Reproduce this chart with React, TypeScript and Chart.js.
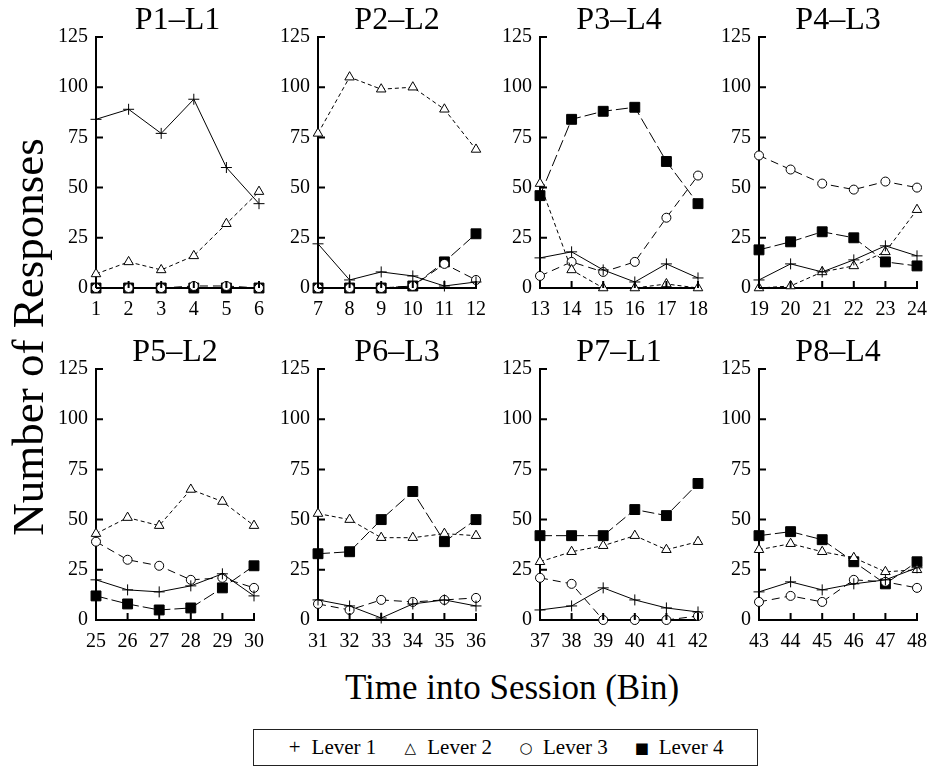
import React, { useEffect, useRef } from 'react';
import { Chart, registerables } from 'chart.js';

Chart.register(...registerables);

// ---------------- data ----------------
const binLabels = [
  '1', '2', '3', '4', '5', '6', '7', '8', '9', '10', '11', '12',
  '13', '14', '15', '16', '17', '18', '19', '20', '21', '22', '23', '24',
  '25', '26', '27', '28', '29', '30', '31', '32', '33', '34', '35', '36',
  '37', '38', '39', '40', '41', '42', '43', '44', '45', '46', '47', '48',
];

const panelTitles = ['P1–L1', 'P2–L2', 'P3–L4', 'P4–L3', 'P5–L2', 'P6–L3', 'P7–L1', 'P8–L4'];

const yTicks = [0, 25, 50, 75, 100, 125];

const lever1 = [
  84, 89, 77, 94, 60, 42,
  22, 4, 8, 6, 1, 3,
  15, 18, 9, 3, 12, 5,
  4, 12, 8, 14, 21, 16,
  20, 15, 14, 17, 23, 12,
  10, 7, 1, 8, 10, 7,
  5, 7, 16, 10, 6, 4,
  14, 19, 15, 18, 20, 26,
];

const lever2 = [
  7, 13, 9, 16, 32, 48,
  77, 105, 99, 100, 89, 69,
  52, 9, 0, 0, 2, 0,
  0, 1, 8, 11, 18, 39,
  43, 51, 47, 65, 59, 47,
  53, 50, 41, 41, 43, 42,
  29, 34, 37, 42, 35, 39,
  35, 38, 34, 31, 24, 25,
];

const lever3 = [
  0, 0, 0, 1, 1, 0,
  0, 0, 0, 1, 12, 4,
  6, 13, 8, 13, 35, 56,
  66, 59, 52, 49, 53, 50,
  39, 30, 27, 20, 21, 16,
  8, 5, 10, 9, 10, 11,
  21, 18, 0, 0, 0, 2,
  9, 12, 9, 20, 19, 16,
];

const lever4 = [
  0, 0, 0, 0, 0, 0,
  0, 0, 0, 1, 13, 27,
  46, 84, 88, 90, 63, 42,
  19, 23, 28, 25, 13, 11,
  12, 8, 5, 6, 16, 27,
  33, 34, 50, 64, 39, 50,
  42, 42, 42, 55, 52, 68,
  42, 44, 40, 29, 18, 29,
];

const legendLabels = ['Lever 1', 'Lever 2', 'Lever 3', 'Lever 4'];
const legendSymbols = ['+', '△', '○', '■'];

// ---------------- layout ----------------
const BINS_PER_PANEL = 6;
const COL_AXIS_X = [96, 318, 540, 759];
const ROW_TOP = [0, 332];
const Y_AXIS_W = 50;
const X_AXIS_H = 34;
const PAD_RIGHT = 14;
const PLOT_W = 164;
const PLOT_H = 251;
const TITLE_H = 37;
const CANVAS_W = Y_AXIS_W + PLOT_W + PAD_RIGHT;
const CANVAS_H = TITLE_H + PLOT_H + X_AXIS_H;
const TICK_LEN = 7;
const SERIF = "'Liberation Serif', 'Times New Roman', serif";

const innerTicks = {
  id: 'innerTicks',
  afterDraw(chart: any) {
    const { ctx, chartArea } = chart;
    const x = chart.scales.x;
    const y = chart.scales.y;
    ctx.save();
    ctx.strokeStyle = '#000';
    ctx.lineWidth = 2;
    ctx.setLineDash([]);
    ctx.beginPath();
    x.ticks.forEach((_t: any, i: number) => {
      const px = x.getPixelForTick(i);
      ctx.moveTo(px, chartArea.bottom);
      ctx.lineTo(px, chartArea.bottom - TICK_LEN);
    });
    y.ticks.forEach((_t: any, i: number) => {
      const py = y.getPixelForTick(i);
      ctx.moveTo(chartArea.left, py);
      ctx.lineTo(chartArea.left + TICK_LEN, py);
    });
    ctx.stroke();
    ctx.restore();
  },
};

function Panel({ index }: { index: number }) {
  const ref = useRef<HTMLCanvasElement | null>(null);
  const row = Math.floor(index / 4);
  const col = index % 4;

  useEffect(() => {
    if (!ref.current) return;
    const s = index * BINS_PER_PANEL;
    const e = s + BINS_PER_PANEL;
    const base = {
      borderColor: '#000',
      borderWidth: 1,
      pointBorderColor: '#000',
      pointBorderWidth: 1,
      tension: 0,
      clip: false as any,
    };
    const chart = new Chart(ref.current, {
      type: 'line',
      data: {
        labels: binLabels.slice(s, e),
        datasets: [
          {
            ...base,
            label: legendLabels[0],
            data: lever1.slice(s, e),
            pointStyle: 'cross',
            pointRadius: 5.5,
            pointBackgroundColor: '#000',
          },
          {
            ...base,
            label: legendLabels[1],
            data: lever2.slice(s, e),
            borderDash: [4, 3],
            pointStyle: 'triangle',
            pointRadius: 5.5,
            pointBackgroundColor: '#fff',
          },
          {
            ...base,
            label: legendLabels[2],
            data: lever3.slice(s, e),
            borderDash: [8, 5],
            pointStyle: 'circle',
            pointRadius: 4.5,
            pointBackgroundColor: '#fff',
          },
          {
            ...base,
            label: legendLabels[3],
            data: lever4.slice(s, e),
            borderDash: [12, 4],
            pointStyle: 'rect',
            pointRadius: 7,
            pointBackgroundColor: '#000',
          },
        ],
      },
      options: {
        responsive: false,
        animation: false,
        events: [],
        layout: { padding: { left: 0, right: PAD_RIGHT, top: 0, bottom: 0 } },
        plugins: {
          legend: { display: false },
          tooltip: { enabled: false },
          title: {
            display: true,
            text: panelTitles[index],
            fullSize: false,
            color: '#000',
            font: { family: SERIF, size: 32, weight: 'normal', lineHeight: 1 },
            padding: { top: 5, bottom: 0 },
          },
        },
        scales: {
          x: {
            type: 'category',
            offset: false,
            grid: { display: false, drawTicks: false },
            border: { display: true, color: '#000', width: 2 },
            ticks: {
              color: '#000',
              font: { family: SERIF, size: 20 },
              padding: 10,
              maxRotation: 0,
              autoSkip: false,
            },
            afterFit: (sc: any) => {
              sc.height = X_AXIS_H;
            },
          },
          y: {
            type: 'linear',
            min: yTicks[0],
            max: yTicks[yTicks.length - 1],
            grid: { display: false, drawTicks: false },
            border: { display: true, color: '#000', width: 2 },
            afterBuildTicks: (sc: any) => {
              sc.ticks = yTicks.map((v) => ({ value: v }));
            },
            ticks: {
              color: '#000',
              font: { family: SERIF, size: 20 },
              padding: 8,
            },
            afterFit: (sc: any) => {
              sc.width = Y_AXIS_W;
            },
          },
        },
      },
      plugins: [innerTicks],
    });
    return () => chart.destroy();
  }, [index]);

  return (
    <canvas
      ref={ref}
      width={CANVAS_W}
      height={CANVAS_H}
      style={{
        position: 'absolute',
        left: COL_AXIS_X[col] - Y_AXIS_W,
        top: ROW_TOP[row],
        width: CANVAS_W,
        height: CANVAS_H,
      }}
    />
  );
}

export default function App() {
  return (
    <div
      style={{
        position: 'absolute',
        left: 0,
        top: 0,
        width: 935,
        height: 776,
        background: '#fff',
        overflow: 'hidden',
        fontFamily: SERIF,
        color: '#000',
      }}
    >
      {panelTitles.map((_t, i) => (
        <Panel key={i} index={i} />
      ))}

      {/* y-axis title */}
      <div
        style={{
          position: 'absolute',
          left: 28 - 250,
          top: 337 - 25,
          width: 500,
          height: 50,
          lineHeight: '50px',
          fontSize: 45,
          textAlign: 'center',
          transform: 'rotate(-90deg)',
          whiteSpace: 'nowrap',
        }}
      >
        Number of Responses
      </div>

      {/* x-axis title */}
      <div
        style={{
          position: 'absolute',
          left: 512 - 300,
          top: 670,
          width: 600,
          height: 35,
          lineHeight: '35px',
          fontSize: 35,
          textAlign: 'center',
          whiteSpace: 'nowrap',
        }}
      >
        Time into Session (Bin)
      </div>

      {/* legend */}
      <div
        style={{
          position: 'absolute',
          left: 253,
          top: 729,
          width: 505,
          height: 37,
          boxSizing: 'border-box',
          border: '1px solid #222',
          display: 'flex',
          alignItems: 'center',
          justifyContent: 'center',
          fontSize: 21,
          whiteSpace: 'nowrap',
        }}
      >
        {legendLabels.map((lab, i) => (
          <span
            key={lab}
            style={{ display: 'flex', alignItems: 'center', marginLeft: i === 0 ? 0 : 27 }}
          >
            <span
              style={{
                display: 'inline-block',
                width: 14,
                textAlign: 'center',
                marginRight: 10,
                fontSize: i === 0 ? 21 : 15,
                fontFamily: i === 0 ? SERIF : "'DejaVu Sans', sans-serif",
              }}
            >
              {legendSymbols[i]}
            </span>
            {lab}
          </span>
        ))}
      </div>
    </div>
  );
}
